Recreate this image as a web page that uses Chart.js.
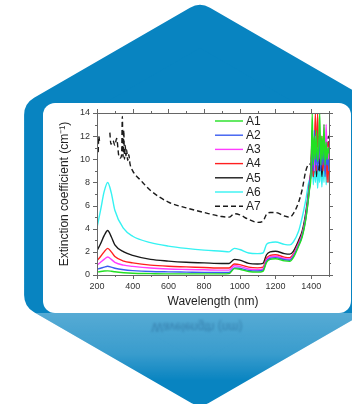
<!DOCTYPE html>
<html>
<head>
<meta charset="utf-8">
<script src="https://cdn.jsdelivr.net/npm/chart.js@4.4.1/dist/chart.umd.min.js"></script>
<style>
  html, body { margin: 0; padding: 0; background: #fff; }
  #stage { position: relative; width: 352px; height: 404px; overflow: hidden; }
  #hex { position: absolute; left: 0; top: 0; }
  #card { position: absolute; left: 43px; top: 103px; width: 308px; height: 210px; background: #fff; border-radius: 12px; overflow: hidden; }
  #mirror { position: absolute; left: 43px; top: 320px; width: 308px; text-align: center;
            font: 12px "Liberation Sans", Arial, sans-serif; color: rgba(20, 70, 120, 0.4);
            transform: scaleY(-1); filter: blur(0.8px); }
</style>
</head>
<body>
<div id="stage">
  <svg id="hex" width="352" height="404">
    <defs>
      <linearGradient id="fade" gradientUnits="userSpaceOnUse" x1="0" y1="313" x2="0" y2="404">
        <stop offset="0" stop-color="#fff" stop-opacity="0.32"/>
        <stop offset="0.45" stop-color="#fff" stop-opacity="0.2"/>
        <stop offset="0.75" stop-color="#fff" stop-opacity="0"/>
      </linearGradient>
      <mask id="hexMask">
        <polygon points="200,25 355.9,115 355.9,295 200,385 44.1,295 44.1,115"
                 fill="#fff" stroke="#fff" stroke-width="40" stroke-linejoin="round"/>
      </mask>
    </defs>
    <!-- hexagon backdrop, rounded by a thick round-joined stroke -->
    <polygon points="200,25 355.9,115 355.9,295 200,385 44.1,295 44.1,115"
             fill="#0884c1" stroke="#0884c1" stroke-width="40" stroke-linejoin="round"/>
    <!-- light sheen under the card -->
    <rect x="0" y="313" width="352" height="91" fill="url(#fade)" mask="url(#hexMask)"/>
  </svg>
  <div id="mirror">Wavelength (nm)</div>
  <div id="card"><canvas id="extinctionChart" width="308" height="210"></canvas></div>
</div>

<script>
// wavelength grid shared by samples A1..A6 (nm)
const wavelengths = [200, 220, 240, 260, 280, 300, 350, 400, 500, 600, 700, 800, 900, 940, 970, 1000, 1050, 1100, 1130,
  1150, 1170, 1200, 1250, 1280, 1300, 1330, 1350, 1370, 1390,
  1400, 1406, 1412, 1418, 1424, 1430, 1436, 1442, 1448, 1454, 1460, 1466, 1472, 1478, 1484, 1490, 1496, 1500];

// extinction coefficient (cm^-1) per sample
const a1 = [0.25, 0.3, 0.34, 0.36, 0.33, 0.28, 0.2, 0.15, 0.12, 0.1, 0.1, 0.1, 0.1, 0.12, 0.55, 0.5, 0.3, 0.25, 0.32,
  1.1, 1.35, 1.4, 1.22, 1.18, 1.5, 2.5, 3.3, 4.8, 7.3,
  9.0, 14, 9.5, 12, 10, 12.5, 9.8, 11, 14, 9.5, 12, 10, 13, 9.5, 11.5, 10, 11, 10.5];
const a2 = [0.5, 0.58, 0.68, 0.75, 0.68, 0.58, 0.45, 0.38, 0.3, 0.27, 0.25, 0.23, 0.22, 0.22, 0.62, 0.58, 0.4, 0.35, 0.42,
  1.2, 1.45, 1.5, 1.32, 1.28, 1.6, 2.6, 3.4, 4.9, 7.4,
  9.2, 11, 9, 12.5, 9.5, 11, 9, 10.5, 12, 9, 11, 9.5, 12, 8.5, 10.5, 9.5, 10, 9];
const a3 = [0.85, 1.1, 1.35, 1.55, 1.35, 1.1, 0.85, 0.75, 0.6, 0.52, 0.48, 0.45, 0.42, 0.42, 0.8, 0.75, 0.52, 0.46, 0.52,
  1.3, 1.58, 1.62, 1.42, 1.38, 1.7, 2.7, 3.5, 5.0, 7.5,
  9, 10.5, 11.5, 9, 12, 9.5, 11, 10, 12.5, 9.5, 11, 10, 13, 9, 13, 10, 11, 9];
const a4 = [1.25, 1.6, 2.0, 2.3, 2.0, 1.6, 1.2, 1.05, 0.85, 0.75, 0.7, 0.65, 0.6, 0.6, 0.95, 0.9, 0.68, 0.62, 0.68,
  1.45, 1.7, 1.75, 1.55, 1.5, 1.8, 2.8, 3.6, 5.1, 7.6,
  9.5, 12, 8.5, 11, 14, 9, 14, 10, 11, 9.5, 12, 9, 10.5, 9, 11, 8, 11.5, 8];
const a5 = [2.1, 2.7, 3.4, 3.85, 3.3, 2.6, 2.0, 1.7, 1.35, 1.2, 1.1, 1.05, 1.0, 1.0, 1.35, 1.28, 1.0, 0.95, 1.0,
  1.75, 2.0, 2.05, 1.85, 1.8, 2.05, 3.0, 3.8, 5.4, 7.8,
  9.5, 12.5, 8.5, 10, 11.5, 8.5, 10.5, 12, 9, 11, 8.5, 10, 12, 9, 10.5, 9, 10, 9.5];
const a6 = [4.1, 5.6, 7.2, 8.0, 7.1, 5.6, 4.0, 3.35, 2.8, 2.5, 2.3, 2.15, 2.05, 2.0, 2.3, 2.2, 1.9, 1.85, 1.9,
  2.65, 2.8, 2.85, 2.65, 2.6, 2.85, 3.8, 5.0, 6.5, 8.2,
  8.5, 10.5, 7.8, 9.5, 8, 10, 7.5, 9, 8, 10, 7.6, 9.5, 8, 10.5, 7.8, 9, 8, 9.5];

// A7 has its own, noisier sampling in the UV (no data around 240 nm)
const a7Wavelengths = [200, 203, 206, 210, 214, 240, 272, 278, 290, 300, 310, 322, 330, 338, 342, 346, 350, 354, 358, 362,
  366, 372, 378, 385, 400, 450, 500, 600, 700, 800, 900, 940, 970, 1000, 1050, 1100, 1130, 1150, 1170, 1200,
  1250, 1280, 1300, 1330, 1350, 1370, 1390,
  1400, 1406, 1412, 1418, 1424, 1430, 1436, 1442, 1448, 1454, 1460, 1466, 1472, 1478, 1484, 1490, 1496, 1500];
const a7 = [9.5, 12, 10.5, 12, 11.6, null, 12.3, 11.3, 11.6, 11.2, 11.8, 10.3, 10.1, 10.4, 13.7, 10.2, 12.5, 10.0, 11.2, 10.3,
  10.8, 9.9, 10.4, 9.6, 9.0, 8.1, 7.3, 6.3, 5.8, 5.4, 5.05, 5.0, 5.3, 5.2, 4.8, 4.55, 4.65, 5.25, 5.4, 5.4,
  5.1, 5.0, 5.3, 6.3, 7.4, 9.0, 9.6,
  9.5, 11.5, 8.5, 10, 12, 9, 11, 8.5, 12, 10, 11, 9.5, 12, 10.5, 11.5, 10, 12, 11];

const xTicks = [200, 400, 600, 800, 1000, 1200, 1400];
const yTicks = [0, 2, 4, 6, 8, 10, 12, 14];

const pts = (xs, ys) => xs.map((x, i) => ({ x: x, y: ys[i] }));
const FONT = '"Liberation Sans", Arial, sans-serif';

function series(label, xs, ys, color, dash) {
  return {
    label: label,
    data: pts(xs, ys),
    borderColor: color,
    borderWidth: 1.4,
    borderDash: dash || [],
    pointRadius: 0,
    fill: false,
    spanGaps: false,
    cubicInterpolationMode: 'monotone'
  };
}

// box around the plot with major + minor ticks on all four sides
const frame = {
  id: 'frame',
  afterDatasetsDraw(chart) {
    const { ctx, chartArea: a, scales: { x, y } } = chart;
    ctx.save();
    ctx.strokeStyle = '#666';
    ctx.lineWidth = 1;
    ctx.strokeRect(Math.round(a.left) + 0.5, Math.round(a.top) + 0.5,
                   Math.round(a.right - a.left), Math.round(a.bottom - a.top));
    ctx.beginPath();
    for (let v = 200; v <= 1500; v += 100) {
      const px = Math.round(x.getPixelForValue(v)) + 0.5;
      const len = xTicks.includes(v) ? 4 : 2;
      ctx.moveTo(px, a.bottom); ctx.lineTo(px, a.bottom + len);
      ctx.moveTo(px, a.top); ctx.lineTo(px, a.top - len);
    }
    for (let v = 0; v <= 14; v += 1) {
      const py = Math.round(y.getPixelForValue(v)) + 0.5;
      const len = yTicks.includes(v) ? 4 : 2;
      ctx.moveTo(a.left, py); ctx.lineTo(a.left - len, py);
      ctx.moveTo(a.right, py); ctx.lineTo(a.right + len, py);
    }
    ctx.stroke();
    ctx.restore();
  }
};

// legend box in the upper right of the plot
const insetLegend = {
  id: 'insetLegend',
  afterDatasetsDraw(chart) {
    const { ctx, chartArea: a } = chart;
    ctx.save();
    ctx.font = '12px ' + FONT;
    ctx.textBaseline = 'middle';
    ctx.fillStyle = '#222';
    chart.data.datasets.forEach((ds, i) => {
      const yy = a.top + 8 + i * 14.2;
      const x0 = a.right - 114;
      ctx.strokeStyle = ds.borderColor;
      ctx.lineWidth = 1.4;
      ctx.setLineDash(ds.borderDash);
      ctx.beginPath();
      ctx.moveTo(x0, yy); ctx.lineTo(x0 + 28, yy);
      ctx.stroke();
      ctx.setLineDash([]);
      ctx.fillText(ds.label, x0 + 31, yy + 0.5);
    });
    ctx.restore();
  }
};

new Chart(document.getElementById('extinctionChart'), {
  type: 'line',
  data: {
    datasets: [
      series('A1', wavelengths, a1, '#22e022'),
      series('A2', wavelengths, a2, '#3a5cf0'),
      series('A3', wavelengths, a3, '#ff3cff'),
      series('A4', wavelengths, a4, '#ff2020'),
      series('A5', wavelengths, a5, '#1a1a1a'),
      series('A6', wavelengths, a6, '#35f2f2'),
      series('A7', a7Wavelengths, a7, '#1a1a1a', [5, 3])
    ]
  },
  options: {
    responsive: false,
    animation: false,
    layout: { padding: { top: 10, right: 22, left: 10, bottom: 0 } },
    plugins: { legend: { display: false }, tooltip: { enabled: false } },
    scales: {
      x: {
        type: 'linear', min: 200, max: 1500,
        grid: { display: false, drawTicks: false }, border: { display: false },
        afterBuildTicks: s => { s.ticks = xTicks.map(v => ({ value: v })); },
        afterFit: s => { s.height = 38; s.paddingLeft = 0; s.paddingRight = 0; },
        ticks: { padding: 6, maxRotation: 0, color: '#333', font: { family: FONT, size: 9 },
                 callback: v => String(v) },
        title: { display: true, text: 'Wavelength (nm)', color: '#222', padding: { top: 4, bottom: 4 },
                 font: { family: FONT, size: 12 } }
      },
      y: {
        min: 0, max: 14,
        grid: { display: false, drawTicks: false }, border: { display: false },
        afterBuildTicks: s => { s.ticks = yTicks.map(v => ({ value: v })); },
        afterFit: s => { s.width = 44; s.paddingTop = 0; s.paddingBottom = 0; },
        ticks: { padding: 7, color: '#333', font: { family: FONT, size: 9 },
                 callback: v => String(v) },
        title: { display: true, text: 'Extinction coefficient (cm⁻¹)', color: '#222', padding: { top: 4, bottom: 4 },
                 font: { family: FONT, size: 12 } }
      }
    }
  },
  plugins: [frame, insetLegend]
});
</script>
</body>
</html>
